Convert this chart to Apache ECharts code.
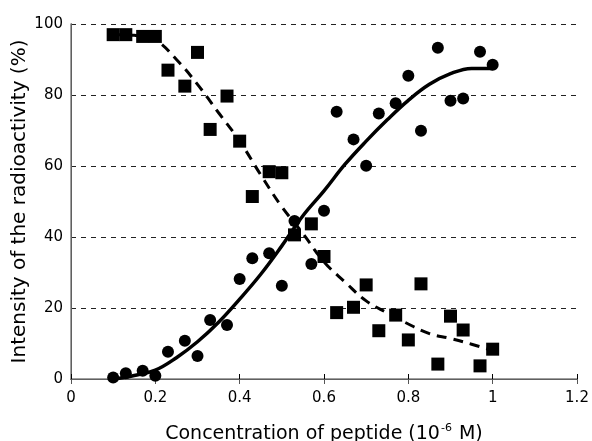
<!DOCTYPE html>
<html lang="en">
<head>
    <meta charset="UTF-8">
    <title>Radioactivity vs peptide</title>
    <style>
        html, body { margin: 0; padding: 0; background: #fff; }
        #main { width: 592px; height: 441px; }
    </style>
</head>
<body>
<div id="main"></div>
<script src="https://cdn.jsdelivr.net/npm/echarts@6/dist/echarts.min.js"></script>
<script>
    // concentrations (10^-6 M) of the measured points
    var conc = [0.10, 0.13, 0.17, 0.20, 0.23, 0.27, 0.30, 0.33, 0.37, 0.40, 0.43, 0.47, 0.50, 0.53,
                0.57, 0.60, 0.63, 0.67, 0.70, 0.73, 0.77, 0.80, 0.83, 0.87, 0.90, 0.93, 0.97, 1.00];
    // squares - decreasing
    var squareVals = [97, 97, 96.5, 96.5, 87, 82.5, 92, 70.3, 79.7, 67, 51.4, 58.4, 58.1, 40.6,
                      43.7, 34.5, 18.7, 20.2, 26.5, 13.6, 18, 11, 26.8, 4.2, 17.7, 13.8, 3.7, 8.4];
    // circles - increasing
    var circleVals = [0.4, 1.6, 2.3, 0.9, 7.7, 10.8, 6.5, 16.6, 15.2, 28.2, 34, 35.4, 26.3, 44.5,
                      32.4, 47.4, 75.3, 67.5, 60.1, 74.8, 77.7, 85.4, 69.9, 93.3, 78.4, 79, 92.2, 88.5];

    // fitted curves
    var fitX = [0.10, 0.15, 0.20, 0.25, 0.30, 0.35, 0.40, 0.45, 0.50, 0.55,
                0.60, 0.65, 0.70, 0.75, 0.80, 0.85, 0.90, 0.95, 1.00];
    var fitUp = [0, 1, 2.5, 6, 10.5, 16, 22.5, 29.5, 37.5, 46,
                 53, 60.5, 67, 73, 78.5, 83, 86, 87.5, 87.5];
    var fitDown = [97, 96.8, 95.5, 90, 83, 75, 67, 57.5, 48.5, 41,
                   33, 27.3, 22, 18.6, 15.5, 12.8, 11.4, 9.8, 8];

    var yTicks = [0, 20, 40, 60, 80, 100];

    function pairs(xs, ys) {
        var out = [];
        for (var i = 0; i < xs.length; i++) {
            out.push([xs[i], ys[i]]);
        }
        return out;
    }

    var font = 'DejaVu Sans, sans-serif';
    var myChart = echarts.init(document.getElementById('main'));

    var option = {
        animation: false,
        backgroundColor: '#fff',
        grid: { left: 71, right: 15, top: 24, bottom: 62, containLabel: false, outerBoundsMode: 'none' },
        xAxis: [{
            type: 'value',
            min: 0, max: 1.2, interval: 0.2,
            position: 'bottom',
            name: '{a|Concentration of peptide (10}{s|-6}{a| M)}',
            nameLocation: 'middle',
            nameGap: 44,
            nameMoveOverlap: false,
            nameTextStyle: {
                rich: {
                    a: { fontSize: 19, color: '#000', fontFamily: font },
                    s: { fontSize: 11, color: '#000', fontFamily: font, verticalAlign: 'top', padding: [0, 1, 12, 1] }
                }
            },
            axisLine: { show: true, lineStyle: { color: '#000', width: 1 } },
            axisTick: { show: true, inside: true, length: 5, lineStyle: { color: '#000' } },
            axisLabel: { color: '#000', fontSize: 15, fontFamily: font, margin: 12 },
            splitLine: { show: false }
        }, {
            type: 'value',
            min: 0, max: 1.2, interval: 0.2,
            position: 'top',
            axisLine: { show: true, lineStyle: { color: '#808080', width: 1.5 } },
            axisTick: { show: true, inside: true, length: 5, lineStyle: { color: '#555' } },
            axisLabel: { show: false },
            splitLine: { show: false }
        }],
        yAxis: [{
            type: 'value',
            min: 0, max: 100, interval: 20,
            position: 'left',
            name: 'Intensity of the radioactivity (%)',
            nameLocation: 'middle',
            nameGap: 41,
            nameMoveOverlap: false,
            nameTextStyle: { fontSize: 20, color: '#000', fontFamily: font },
            axisLine: { show: true, lineStyle: { color: '#000', width: 1 } },
            axisTick: { show: false },
            axisLabel: { color: '#000', fontSize: 15, fontFamily: font, margin: 8,
                formatter: function (v) { return yTicks.indexOf(v) > -1 ? String(v) : ''; } },
            splitLine: {
                show: true,
                lineStyle: { color: '#222', width: 1, type: [5, 5] }
            }
        }, {
            type: 'value',
            min: 0, max: 100, interval: 20,
            position: 'right',
            axisLine: { show: true, lineStyle: { color: '#808080', width: 1.5 } },
            axisTick: { show: false },
            axisLabel: { show: false },
            splitLine: { show: false }
        }],
        series: [{
            type: 'line',
            data: pairs(fitX, fitUp),
            smooth: 0.4,
            showSymbol: false,
            lineStyle: { color: '#000', width: 3.5 },
            z: 3
        }, {
            type: 'line',
            data: pairs(fitX, fitDown),
            smooth: 0.4,
            showSymbol: false,
            lineStyle: { color: '#000', width: 3, type: [10, 7] },
            z: 3
        }, {
            type: 'scatter',
            data: pairs(conc, squareVals),
            symbol: 'rect',
            symbolSize: 13,
            itemStyle: { color: '#000', opacity: 1 },
            z: 4
        }, {
            type: 'scatter',
            data: pairs(conc, circleVals),
            symbol: 'circle',
            symbolSize: 12,
            itemStyle: { color: '#000', opacity: 1 },
            z: 4
        }]
    };

    myChart.setOption(option);
</script>
</body>
</html>
